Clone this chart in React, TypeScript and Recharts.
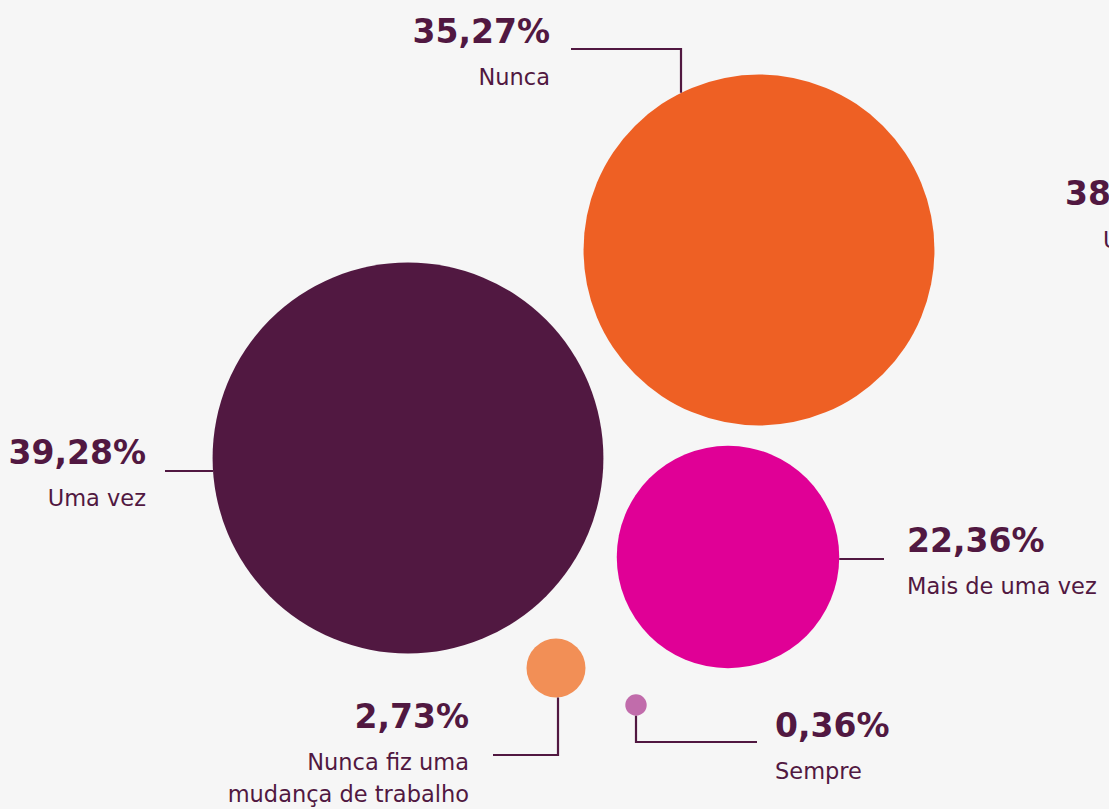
import { ScatterChart, Scatter, XAxis, YAxis, ZAxis } from "recharts";

// Share of respondents per answer (percent)
const categories = ["Nunca", "Uma vez", "Mais de uma vez", "Nunca fiz uma mudança de trabalho", "Sempre"];
const shares = [35.27, 39.28, 22.36, 2.73, 0.36];
const categoryLines = [["Nunca"], ["Uma vez"], ["Mais de uma vez"], ["Nunca fiz uma", "mudança de trabalho"], ["Sempre"]];

// bubble layout (chart units == px here) and colours
const bubbleX = [759, 408, 728, 556, 636];
const bubbleY = [250, 458, 557, 668, 705];
const colors = ["#ee6024", "#511841", "#e00096", "#f28f56", "#c16cab"];

const INK = "#511841";
const W = 1109;
const H = 809;

type Leader = {
  from: "top" | "bottom" | "left" | "right";
  off: number;
  toX: number;
  toY?: number;
  textX: number;
  textY: number;
  anchor: "start" | "end";
};

const leaders: Leader[] = [
  { from: "top", off: -78, toY: -201, toX: -188, textX: -209, textY: -207, anchor: "end" },
  { from: "left", off: 13, toX: -243, textX: -262, textY: 6, anchor: "end" },
  { from: "right", off: 2, toX: 156, textX: 179, textY: -5, anchor: "start" },
  { from: "bottom", off: 2, toY: 87, toX: -63, textX: -87, textY: 60, anchor: "end" },
  { from: "bottom", off: 0, toY: 37, toX: 121, textX: 139, textY: 32, anchor: "start" },
];

const data = categories.map((name, i) => ({
  idx: i,
  name,
  x: bubbleX[i],
  y: bubbleY[i],
  z: shares[i],
}));
// large answers on a linear radius scale, tiny ones on a sqrt scale
const bigData = data.filter((d) => d.z >= 10);
const smallData = data.filter((d) => d.z < 10);

const fmt = (v: number) => v.toFixed(2).replace(".", ",") + "%";

const Bubble = (props: any) => {
  const { cx, cy, size, payload } = props;
  const i = payload.idx;
  const r = size;
  const l = leaders[i];
  let pts: number[][] = [];
  if (l.from === "top" || l.from === "bottom") {
    const s = l.from === "top" ? -1 : 1;
    const edge = s * Math.sqrt(Math.max(r * r - l.off * l.off, 0));
    pts = [[l.off, edge], [l.off, l.toY as number], [l.toX, l.toY as number]];
  } else {
    const s = l.from === "left" ? -1 : 1;
    const edge = s * Math.sqrt(Math.max(r * r - l.off * l.off, 0));
    pts = [[edge, l.off], [l.toX, l.off]];
  }
  const d = pts.map((p, k) => `${k ? "L" : "M"}${cx + p[0]},${cy + p[1]}`).join(" ");
  const tx = cx + l.textX;
  const ty = cy + l.textY;
  return (
    <g>
      <circle cx={cx} cy={cy} r={r} fill={colors[i]} />
      <path d={d} fill="none" stroke={INK} strokeWidth={2.2} />
      <text x={tx} y={ty} textAnchor={l.anchor} fill={INK} fontSize={33} fontWeight={700} fontFamily="DejaVu Sans">
        {fmt(shares[i])}
      </text>
      {categoryLines[i].map((line, k) => (
        <text
          key={k}
          x={tx}
          y={ty + 42 + k * 32}
          textAnchor={l.anchor}
          fill={INK}
          fontSize={22.5}
          fontFamily="DejaVu Sans"
        >
          {line}
        </text>
      ))}
    </g>
  );
};

export default function App() {
  return (
    <div
      style={{
        position: "absolute",
        left: 0,
        top: 0,
        width: W,
        height: H,
        overflow: "hidden",
        background: "#f6f6f6",
      }}
    >
      <ScatterChart width={W} height={H} margin={{ top: 0, right: 0, bottom: 0, left: 0 }}>
        <XAxis type="number" dataKey="x" domain={[0, W]} hide />
        <YAxis type="number" dataKey="y" domain={[0, H]} reversed hide />
        <ZAxis zAxisId="big" type="number" dataKey="z" domain={[0, 40]} range={[0, 199]} />
        <ZAxis zAxisId="small" type="number" dataKey="z" scale="sqrt" domain={[0, 4]} range={[0, 35.7]} />
        <Scatter data={bigData} zAxisId="big" shape={Bubble} isAnimationActive={false} />
        <Scatter data={smallData} zAxisId="small" shape={Bubble} isAnimationActive={false} />
      </ScatterChart>
      {/* neighbouring chart's label, cut off at the right edge */}
      <svg width={W} height={H} style={{ position: "absolute", left: 0, top: 0, pointerEvents: "none" }}>
        <text x={1065} y={205} fill={INK} fontSize={33} fontWeight={700} fontFamily="DejaVu Sans">
          38
        </text>
        <text x={1103} y={248} fill={INK} fontSize={22.5} fontFamily="DejaVu Sans">
          Uma vez
        </text>
      </svg>
    </div>
  );
}
